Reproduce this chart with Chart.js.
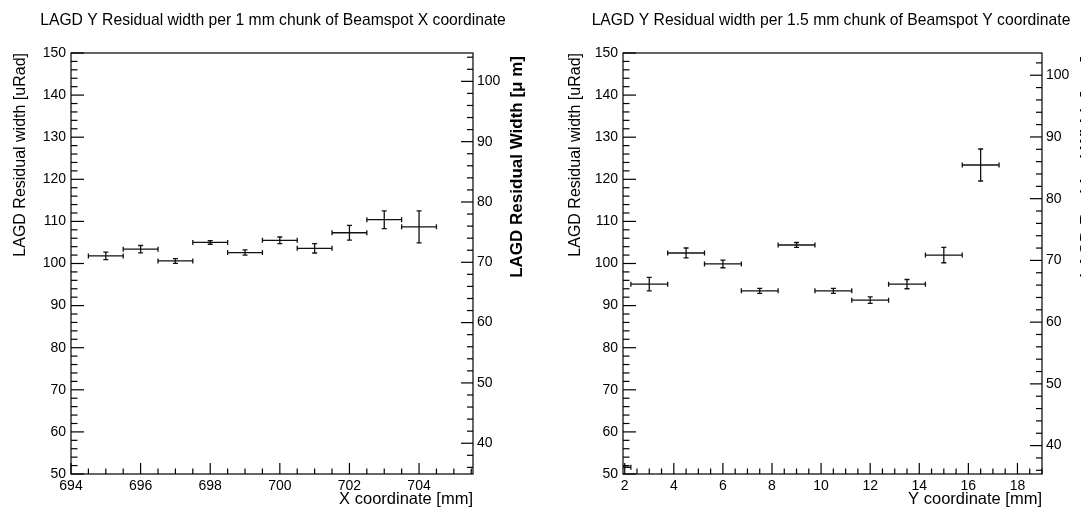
<!DOCTYPE html>
<html>
<head>
<meta charset="utf-8">
<script src="https://cdn.jsdelivr.net/npm/chart.js@4/dist/chart.umd.min.js"></script>
<style>
html, body { margin: 0; padding: 0; background: #fff; overflow: hidden; }
#wrap { position: relative; width: 1081px; height: 510px; }
canvas { position: absolute; top: 0; }
</style>
</head>
<body>
<div id="wrap">
  <canvas id="padX" width="540" height="510" style="left:0"></canvas>
  <canvas id="padY" width="541" height="510" style="left:540px"></canvas>
</div>
<script>
// left pad: residual width per 1 mm chunk of beamspot X
const xCenters = [695, 696, 697, 698, 699, 700, 701, 702, 703, 704];
const xHalfBin = 0.5;
const xWidths = [101.8, 103.4, 100.6, 105.0, 102.6, 105.5, 103.6, 107.3, 110.4, 108.7];
const xErrors = [0.9, 0.87, 0.55, 0.43, 0.63, 0.79, 1.1, 1.74, 2.1, 3.8];
const xTicks = [694, 696, 698, 700, 702, 704];

// right pad: residual width per 1.5 mm chunk of beamspot Y
const yCenters = [1.5, 3, 4.5, 6, 7.5, 9, 10.5, 12, 13.5, 15, 16.5];
const yHalfBin = 0.75;
const yWidths = [51.6, 95.1, 102.5, 99.9, 93.5, 104.4, 93.5, 91.3, 95.1, 102.0, 123.4];
const yErrors = [1.0, 1.62, 1.18, 0.91, 0.59, 0.59, 0.59, 0.75, 1.1, 1.82, 3.8];
const yTicks = [2, 4, 6, 8, 10, 12, 14, 16, 18];

const uradTicks = [50, 60, 70, 80, 90, 100, 110, 120, 130, 140, 150];
const umTicks = [40, 50, 60, 70, 80, 90, 100];

const FONT = '"Liberation Sans", Arial, Helvetica, sans-serif';

// ROOT-like frame, inward tick marks, titles and error crosses
const rootPad = {
    id: 'rootPad',
    afterDatasetsDraw(chart, args, o){
        const {ctx, chartArea: a, scales} = chart;
        ctx.save();
        ctx.beginPath();
        ctx.rect(a.left, a.top, a.right - a.left, a.bottom - a.top);
        ctx.clip();
        ctx.strokeStyle = '#111';
        ctx.lineWidth = 1.3;
        const cap = 2.5;
        chart.data.datasets.forEach(ds => {
            ds.data.forEach((p, i) => {
                const px = scales.x.getPixelForValue(p.x);
                const py = scales.y.getPixelForValue(p.y);
                const x1 = scales.x.getPixelForValue(p.x - ds.xHalf);
                const x2 = scales.x.getPixelForValue(p.x + ds.xHalf);
                const y1 = scales.y.getPixelForValue(p.y + ds.yErr[i]);
                const y2 = scales.y.getPixelForValue(p.y - ds.yErr[i]);
                ctx.beginPath();
                ctx.moveTo(x1, py); ctx.lineTo(x2, py);
                ctx.moveTo(x1, py - cap); ctx.lineTo(x1, py + cap);
                ctx.moveTo(x2, py - cap); ctx.lineTo(x2, py + cap);
                ctx.moveTo(px, y1); ctx.lineTo(px, y2);
                ctx.moveTo(px - cap, y1); ctx.lineTo(px + cap, y1);
                ctx.moveTo(px - cap, y2); ctx.lineTo(px + cap, y2);
                ctx.stroke();
            });
        });
        ctx.restore();
    },
    afterDraw(chart, args, o){
        const {ctx, chartArea: a, scales} = chart;
        ctx.save();
        ctx.strokeStyle = '#000';
        ctx.lineWidth = 1.2;
        ctx.strokeRect(a.left, a.top, a.right - a.left, a.bottom - a.top);
        const line = (x1, y1, x2, y2) => { ctx.beginPath(); ctx.moveTo(x1, y1); ctx.lineTo(x2, y2); ctx.stroke(); };
        const steps = (s, step) => {
            const out = [];
            for (let v = Math.ceil(s.min / step) * step; v <= s.max + 1e-9; v += step) out.push(v);
            return out;
        };
        // x axis ticks (up from the bottom edge)
        steps(scales.x, o.xMinor).forEach(v => {
            const px = scales.x.getPixelForValue(v);
            const major = scales.x.ticks.some(t => Math.abs(t.value - v) < 1e-6);
            line(px, a.bottom, px, a.bottom - (major ? 11 : 5.5));
        });
        // left y axis ticks
        steps(scales.y, 2).forEach(v => {
            const py = scales.y.getPixelForValue(v);
            const major = Math.abs(v % 10) < 1e-6;
            line(a.left, py, a.left + (major ? 13 : 6.5), py);
        });
        // right y axis ticks (um scale)
        steps(scales.y2, 2).forEach(v => {
            const py = scales.y2.getPixelForValue(v);
            const major = Math.abs(v % 10) < 1e-6;
            line(a.right, py, a.right - (major ? 12 : 6), py);
        });

        ctx.fillStyle = '#000';
        // pad title
        ctx.font = '15.7px ' + FONT;
        ctx.textAlign = 'center';
        ctx.textBaseline = 'middle';
        ctx.fillText(o.title, o.titleX, 21);
        // x axis title, right aligned
        ctx.font = '16.5px ' + FONT;
        ctx.textAlign = 'right';
        ctx.fillText(o.xTitle, a.right, 499);
        // left y title
        ctx.save();
        ctx.font = '16px ' + FONT;
        ctx.translate(o.yTitleX, a.top);
        ctx.rotate(-Math.PI / 2);
        ctx.textAlign = 'right';
        ctx.fillText(o.yTitle, 0, 0);
        ctx.restore();
        // right y title (bold)
        ctx.save();
        ctx.font = 'bold 17px ' + FONT;
        ctx.translate(o.y2TitleX, a.top + 3);
        ctx.rotate(-Math.PI / 2);
        ctx.textAlign = 'right';
        ctx.fillText(o.y2Title, 0, 0);
        ctx.restore();
        ctx.restore();
    }
};

function makePad(id, cfg){
    const tickFont = { family: FONT, size: 14 };
    const fixedTicks = list => scale => { scale.ticks = list.map(v => ({ value: v })); };
    new Chart(document.getElementById(id), {
        type: 'scatter',
        data: {
            datasets: [{
                data: cfg.centers.map((c, i) => ({ x: c, y: cfg.values[i] })),
                xHalf: cfg.half,
                yErr: cfg.errors,
                pointRadius: 0,
                showLine: false
            }]
        },
        options: {
            responsive: false,
            animation: false,
            events: [],
            layout: { padding: { top: 53, left: 0, right: 0, bottom: 0 } },
            plugins: {
                legend: { display: false },
                tooltip: { enabled: false },
                rootPad: cfg.pad
            },
            scales: {
                x: {
                    type: 'linear', position: 'bottom', min: cfg.xMin, max: cfg.xMax,
                    grid: { display: false, drawTicks: false }, border: { display: false },
                    ticks: { font: tickFont, color: '#000', padding: 4, autoSkip: false, maxRotation: 0 },
                    afterBuildTicks: fixedTicks(cfg.xTicks),
                    afterFit: s => { s.height = 36; }
                },
                y: {
                    type: 'linear', position: 'left', min: 50, max: 150,
                    grid: { display: false, drawTicks: false }, border: { display: false },
                    ticks: { font: tickFont, color: '#000', padding: 5, autoSkip: false },
                    afterBuildTicks: fixedTicks(uradTicks),
                    afterFit: s => { s.width = cfg.leftW; }
                },
                y2: {
                    type: 'linear', position: 'right', min: cfg.umMin, max: cfg.umMax,
                    grid: { display: false, drawTicks: false }, border: { display: false },
                    ticks: { font: tickFont, color: '#000', padding: 4, autoSkip: false },
                    afterBuildTicks: fixedTicks(umTicks),
                    afterFit: s => { s.width = cfg.rightW; }
                }
            }
        },
        plugins: [rootPad]
    });
}

makePad('padX', {
    centers: xCenters, values: xWidths, errors: xErrors, half: xHalfBin,
    xMin: 694, xMax: 705.55, xTicks: xTicks,
    umMin: 34.9, umMax: 104.7,
    leftW: 71, rightW: 67,
    pad: {
        title: 'LAGD Y Residual width per 1 mm chunk of Beamspot X coordinate', titleX: 273,
        xTitle: 'X coordinate [mm]', xMinor: 0.5,
        yTitle: 'LAGD Residual width [uRad]', yTitleX: 21,
        y2Title: 'LAGD Residual Width [\u03bc m]', y2TitleX: 517
    }
});

makePad('padY', {
    centers: yCenters, values: yWidths, errors: yErrors, half: yHalfBin,
    xMin: 1.93, xMax: 19.0, xTicks: yTicks,
    umMin: 35.4, umMax: 103.6,
    leftW: 83, rightW: 39,
    pad: {
        title: 'LAGD Y Residual width per 1.5 mm chunk of Beamspot Y coordinate', titleX: 291,
        xTitle: 'Y coordinate [mm]', xMinor: 0.5,
        yTitle: 'LAGD Residual width [uRad]', yTitleX: 36,
        y2Title: 'LAGD Residual Width [\u03bc m]', y2TitleX: 547
    }
});
</script>
</body>
</html>
